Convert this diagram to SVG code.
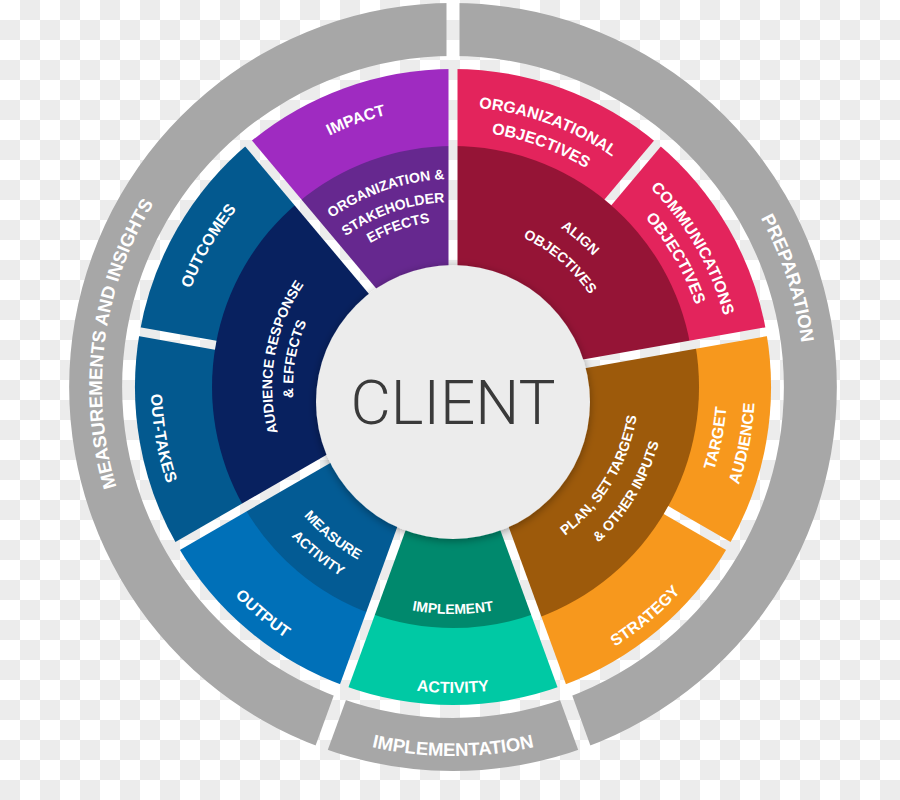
<svg xmlns="http://www.w3.org/2000/svg" xmlns:xlink="http://www.w3.org/1999/xlink" width="900" height="800" viewBox="0 0 900 800">
<defs>
<pattern id="ck" width="40" height="40" patternUnits="userSpaceOnUse"><rect width="40" height="40" fill="#ffffff"/><rect x="20" y="0" width="20" height="20" fill="#ececec"/><rect x="0" y="20" width="20" height="20" fill="#ececec"/></pattern>
<filter id="sh" x="-20%" y="-20%" width="140%" height="140%"><feDropShadow dx="0" dy="2" stdDeviation="4" flood-color="#000" flood-opacity="0.35"/></filter>
<path id="c280" d="M210.5,247 A280,280 0 0 1 695.5,247"/>
<path id="c256" d="M231.3,259 A256,256 0 0 1 674.7,259"/>
<path id="c192" d="M286.7,291 A192,192 0 0 1 619.3,291"/>
<path id="c165" d="M310.1,304.5 A165,165 0 0 1 595.9,304.5"/>
<path id="c181" d="M296.3,296.5 A181,181 0 0 1 609.7,296.5"/>
<path id="c160" d="M314.4,307 A160,160 0 0 1 591.6,307"/>
<path id="c208" d="M272.9,283 A208,208 0 0 1 633.1,283"/>
<path id="c185" d="M292.8,294.5 A185,185 0 0 1 613.2,294.5"/>
<path id="c166" d="M309.2,304 A166,166 0 0 1 596.8,304"/>
<path id="c351" d="M149,211.5 A351,351 0 0 1 757,211.5"/>
<path id="w274" d="M215.7,524 A274,274 0 0 0 690.3,524"/>
<path id="w186" d="M291.9,480 A186,186 0 0 0 614.1,480"/>
<path id="w213" d="M268.5,493.5 A213,213 0 0 0 637.5,493.5"/>
<path id="w306" d="M188,540 A306,306 0 0 0 718,540"/>
<path id="w227" d="M256.4,500.5 A227,227 0 0 0 649.6,500.5"/>
<path id="w302" d="M191.5,538 A302,302 0 0 0 714.5,538"/>
<path id="w197" d="M282.4,485.5 A197,197 0 0 0 623.6,485.5"/>
<path id="w220" d="M262.5,497 A220,220 0 0 0 643.5,497"/>
<path id="w369" d="M133.4,571.5 A369,369 0 0 0 772.6,571.5"/>
</defs>
<style>
.t{fill:#ffffff;font-family:"Liberation Sans",Arial,sans-serif;font-weight:bold;}
.o{font-size:16px;}
.i{font-size:14px;}
.g{font-size:18.5px;}
.gap{fill:none;stroke:url(#ck);stroke-width:9;}
.ggap{fill:none;stroke:url(#ck);stroke-width:13;}
.gray{fill:#a7a7a7;}
</style>
<rect width="900" height="800" fill="url(#ck)"/>

<g id="preparation">
<path class="gray" d="M453,3 A384,384 0 0 1 584.3,747.8 L566.2,698 A331,331 0 0 0 453,56 Z"/>
<text class="t g" transform="rotate(72 453 387)"><textPath xlink:href="#c351" href="#c351" startOffset="50%" text-anchor="middle">PREPARATION</textPath></text>
</g>
<g id="implementation">
<path class="gray" d="M584.3,747.8 A384,384 0 0 1 321.7,747.8 L339.8,698 A331,331 0 0 0 566.2,698 Z"/>
<text class="t g"><textPath xlink:href="#w369" href="#w369" startOffset="50%" text-anchor="middle">IMPLEMENTATION</textPath></text>
</g>
<g id="measurements-insights">
<path class="gray" d="M321.7,747.8 A384,384 0 0 1 453,3 L453,56 A331,331 0 0 0 339.8,698 Z"/>
<text class="t g" transform="rotate(-82.5 453 387)"><textPath xlink:href="#c351" href="#c351" startOffset="50%" text-anchor="middle">MEASUREMENTS AND INSIGHTS</textPath></text>
</g>

<g id="organizational-objectives">
<path fill="#e3245c" d="M453,387 L453,69 A318,318 0 0 1 657.4,143.4 Z"/>
<text class="t o" transform="rotate(20 453 387)"><textPath xlink:href="#c280" href="#c280" startOffset="50%" text-anchor="middle">ORGANIZATIONAL</textPath></text>
<text class="t o" transform="rotate(20 453 387)"><textPath xlink:href="#c256" href="#c256" startOffset="50%" text-anchor="middle">OBJECTIVES</textPath></text>
</g>
<g id="communications-objectives">
<path fill="#e3245c" d="M453,387 L657.4,143.4 A318,318 0 0 1 766.2,331.8 Z"/>
<text class="t o" transform="rotate(60 453 387)"><textPath xlink:href="#c280" href="#c280" startOffset="50%" text-anchor="middle">COMMUNICATIONS</textPath></text>
<text class="t o" transform="rotate(60 453 387)"><textPath xlink:href="#c256" href="#c256" startOffset="50%" text-anchor="middle">OBJECTIVES</textPath></text>
</g>
<g id="target-audience">
<path fill="#f7981d" d="M453,387 L766.2,331.8 A318,318 0 0 1 728.4,546 Z"/>
<text class="t o" transform="rotate(-79 453 387)"><textPath xlink:href="#w274" href="#w274" startOffset="50%" text-anchor="middle">TARGET</textPath></text>
<text class="t o" transform="rotate(-79 453 387)"><textPath xlink:href="#w302" href="#w302" startOffset="50%" text-anchor="middle">AUDIENCE</textPath></text>
</g>
<g id="strategy">
<path fill="#f7981d" d="M453,387 L728.4,546 A318,318 0 0 1 561.8,685.8 Z"/>
<text class="t o" transform="rotate(-40 453 387)"><textPath xlink:href="#w306" href="#w306" startOffset="50%" text-anchor="middle">STRATEGY</textPath></text>
</g>
<g id="activity">
<path fill="#00c9a4" d="M453,387 L561.8,685.8 A318,318 0 0 1 344.2,685.8 Z"/>
<text class="t o"><textPath xlink:href="#w306" href="#w306" startOffset="50%" text-anchor="middle">ACTIVITY</textPath></text>
</g>
<g id="output">
<path fill="#0070b8" d="M453,387 L344.2,685.8 A318,318 0 0 1 177.6,546 Z"/>
<text class="t o" transform="rotate(40 453 387)"><textPath xlink:href="#w302" href="#w302" startOffset="50%" text-anchor="middle">OUTPUT</textPath></text>
</g>
<g id="out-takes">
<path fill="#03598f" d="M453,387 L177.6,546 A318,318 0 0 1 139.8,331.8 Z"/>
<text class="t o" transform="rotate(80 453 387)"><textPath xlink:href="#w302" href="#w302" startOffset="50%" text-anchor="middle">OUT-TAKES</textPath></text>
</g>
<g id="outcomes">
<path fill="#03598f" d="M453,387 L139.8,331.8 A318,318 0 0 1 248.6,143.4 Z"/>
<text class="t o" transform="rotate(-60 453 387)"><textPath xlink:href="#c280" href="#c280" startOffset="50%" text-anchor="middle">OUTCOMES</textPath></text>
</g>
<g id="impact">
<path fill="#9f2bc1" d="M453,387 L248.6,143.4 A318,318 0 0 1 453,69 Z"/>
<text class="t o" transform="rotate(-20 453 387)"><textPath xlink:href="#c280" href="#c280" startOffset="50%" text-anchor="middle">IMPACT</textPath></text>
</g>

<g id="align-objectives">
<path fill="#951436" d="M453,387 L453,146 A241,241 0 0 1 690.3,345.2 Z"/>
<text class="t i" transform="rotate(40.5 453 387)"><textPath xlink:href="#c192" href="#c192" startOffset="50%" text-anchor="middle">ALIGN</textPath></text>
<text class="t i" transform="rotate(40.5 453 387)"><textPath xlink:href="#c165" href="#c165" startOffset="50%" text-anchor="middle">OBJECTIVES</textPath></text>
</g>
<g id="plan-set-targets">
<path fill="#9d5a0b" d="M453,387 L695.3,344.3 A246,246 0 0 1 537.1,618.2 Z"/>
<text class="t i" transform="rotate(-59 453 387)"><textPath xlink:href="#w186" href="#w186" startOffset="50%" text-anchor="middle">PLAN, SET TARGETS</textPath></text>
<text class="t i" transform="rotate(-59 453 387)"><textPath xlink:href="#w213" href="#w213" startOffset="50%" text-anchor="middle">&amp; OTHER INPUTS</textPath></text>
</g>
<g id="implement">
<path fill="#00896d" d="M453,387 L535.4,613.5 A241,241 0 0 1 370.6,613.5 Z"/>
<text class="t i"><textPath xlink:href="#w227" href="#w227" startOffset="50%" text-anchor="middle">IMPLEMENT</textPath></text>
</g>
<g id="measure-activity">
<path fill="#035b94" d="M453,387 L370.6,613.5 A241,241 0 0 1 244.3,507.5 Z"/>
<text class="t i" transform="rotate(39 453 387)"><textPath xlink:href="#w197" href="#w197" startOffset="50%" text-anchor="middle">MEASURE</textPath></text>
<text class="t i" transform="rotate(39 453 387)"><textPath xlink:href="#w220" href="#w220" startOffset="50%" text-anchor="middle">ACTIVITY</textPath></text>
</g>
<g id="audience-response">
<path fill="#08215f" d="M453,387 L244.3,507.5 A241,241 0 0 1 298.1,202.4 Z"/>
<text class="t i" transform="rotate(-80 453 387)"><textPath xlink:href="#c181" href="#c181" startOffset="50%" text-anchor="middle">AUDIENCE RESPONSE</textPath></text>
<text class="t i" transform="rotate(-80 453 387)"><textPath xlink:href="#c160" href="#c160" startOffset="50%" text-anchor="middle">&amp; EFFECTS</textPath></text>
</g>
<g id="organization-stakeholder-effects">
<path fill="#66288f" d="M453,387 L298.1,202.4 A241,241 0 0 1 453,146 Z"/>
<text class="t i" transform="rotate(-19 453 387)"><textPath xlink:href="#c208" href="#c208" startOffset="50%" text-anchor="middle">ORGANIZATION &amp;</textPath></text>
<text class="t i" transform="rotate(-19 453 387)"><textPath xlink:href="#c185" href="#c185" startOffset="50%" text-anchor="middle">STAKEHOLDER</textPath></text>
<text class="t i" transform="rotate(-19 453 387)"><textPath xlink:href="#c166" href="#c166" startOffset="50%" text-anchor="middle">EFFECTS</textPath></text>
</g>

<g id="gaps">
<line class="gap" x1="453" y1="387" x2="453" y2="61"/>
<line class="gap" x1="453" y1="387" x2="774" y2="330.4"/>
<line class="gap" x1="453" y1="387" x2="564.5" y2="693.3"/>
<line class="gap" x1="453" y1="387" x2="341.5" y2="693.3"/>
<line class="gap" x1="453" y1="387" x2="170.7" y2="550"/>
<line class="gap" x1="453" y1="387" x2="243.4" y2="137.3"/>
<line class="gap" x1="607.9" y1="202.4" x2="662.6" y2="137.3"/>
<line class="gap" x1="666" y1="510" x2="735.3" y2="550"/>
<line class="gap" x1="215.7" y1="345.2" x2="132" y2="330.4"/>
<line class="ggap" x1="453" y1="61" x2="453" y2="-5"/>
<line class="ggap" x1="564.5" y1="693.3" x2="587.1" y2="755.4"/>
<line class="ggap" x1="341.5" y1="693.3" x2="318.9" y2="755.4"/>
</g>

<g id="client">
<circle cx="453" cy="402" r="137" fill="#ececec" filter="url(#sh)"/>
<text x="453" y="424" text-anchor="middle" font-family="Roboto, 'Liberation Sans', Arial, sans-serif" font-weight="300" font-size="62" fill="#3a3a3a" textLength="205" lengthAdjust="spacingAndGlyphs">CLIENT</text>
</g>
</svg>
